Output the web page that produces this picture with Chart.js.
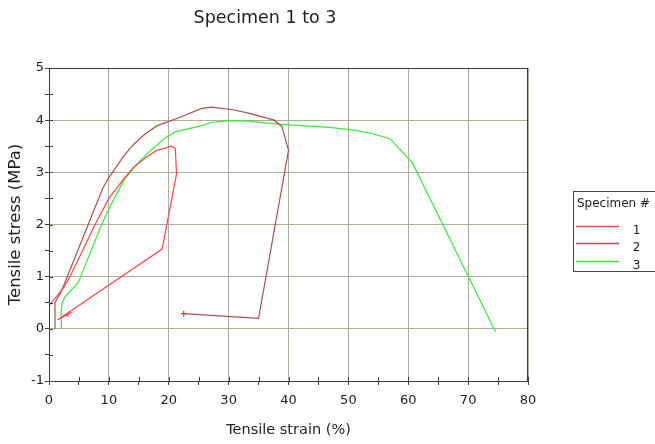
<!DOCTYPE html>
<html>
<head>
<meta charset="utf-8">
<script src="https://cdn.jsdelivr.net/npm/chart.js@4.4.1/dist/chart.umd.min.js"></script>
<style>
  html, body { margin: 0; padding: 0; background: #fff; }
</style>
</head>
<body>
<canvas id="chart" width="655" height="444"></canvas>
<script>
const chartTitle = 'Specimen 1 to 3'
const legendTitle = 'Specimen #'
const specimens = ['1', '2', '3']

// specimen 1
const strain1 = [0, 0, 1.0, 2.5, 3.5, 7.7, 10, 12.4, 14, 16, 18, 20.5, 21.1, 21.3, 18.9, 1.4, 3.5, 2.6, 3.3]
const stress1 = [0, 0.45, 0.58, 0.8, 1.0, 2.0, 2.5, 2.86, 3.08, 3.27, 3.42, 3.5, 3.46, 2.97, 1.53, 0.17, 0.3, 0.27, 0.24]

// specimen 2
const strain2 = [1.0, 1.0, 2.0, 3.05, 6.55, 9.0, 9.9, 12.4, 14, 16, 18, 22, 25.4, 27.1, 30.7, 33.5, 37.6, 38.9, 40.0, 35.0, 22.5]
const stress2 = [0, 0.5, 0.7, 1.0, 2.0, 2.7, 2.88, 3.3, 3.52, 3.73, 3.89, 4.06, 4.22, 4.25, 4.2, 4.13, 4.0, 3.88, 3.42, 0.2, 0.29]

// specimen 3
const strain3 = [2.05, 2.05, 2.2, 2.6, 4.9, 8.8, 10, 12.5, 15, 17, 19.4, 21.2, 25, 27.2, 30.7, 33, 38.8, 46.8, 51, 54.1, 57, 60.7, 74.6]
const stress3 = [0, 0.36, 0.49, 0.6, 0.89, 2.0, 2.3, 2.85, 3.2, 3.42, 3.66, 3.78, 3.88, 3.96, 3.99, 3.98, 3.92, 3.86, 3.81, 3.74, 3.64, 3.18, -0.06]

const colors = ['rgb(255,70,70)', 'rgb(175,80,80)', 'rgb(55,235,55)']
const FONT = '"DejaVu Sans", sans-serif'
const gridColor = '#b0ad9c'
const axisColor = '#3c3c3c'
const textColor = '#1c1c24'

function pts(xs, ys) {
    return xs.map((x, i) => ({x: x, y: ys[i]}))
}

// frame, inner tick marks, title and boxed legend
const decor = {
    id: 'decor',
    afterDraw(chart) {
        const ctx = chart.ctx
        const a = chart.chartArea
        ctx.save()
        ctx.strokeStyle = axisColor
        ctx.lineWidth = 1
        ctx.strokeRect(Math.round(a.left) + 0.5, Math.round(a.top) + 0.5,
            Math.round(a.right - a.left) - 1, Math.round(a.bottom - a.top))

        // ticks cross the axis lines, so draw the inner half too
        ctx.beginPath()
        chart.scales.x.ticks.forEach(t => {
            const px = Math.round(chart.scales.x.getPixelForValue(t.value)) + 0.5
            ctx.moveTo(px, a.bottom)
            ctx.lineTo(px, a.bottom - 4)
        })
        chart.scales.y.ticks.forEach(t => {
            const py = Math.round(chart.scales.y.getPixelForValue(t.value)) + 0.5
            ctx.moveTo(a.left, py)
            ctx.lineTo(a.left + 4, py)
        })
        ctx.stroke()

        ctx.fillStyle = textColor
        ctx.font = '17.5px ' + FONT
        ctx.textAlign = 'center'
        ctx.textBaseline = 'alphabetic'
        ctx.fillText(chartTitle, 265, 23)

        // legend
        const lx = 573.5, ly = 191.5
        ctx.strokeStyle = '#444'
        ctx.strokeRect(lx, ly, 120, 80)
        ctx.font = '12px ' + FONT
        ctx.textAlign = 'left'
        ctx.textBaseline = 'middle'
        ctx.fillText(legendTitle, 577, 204)
        chart.data.datasets.forEach((ds, i) => {
            const y = 225.5 + i * 17.5
            ctx.strokeStyle = ds.borderColor
            ctx.lineWidth = 1.3
            ctx.beginPath()
            ctx.moveTo(576, Math.round(y) + 0.5)
            ctx.lineTo(619, Math.round(y) + 0.5)
            ctx.stroke()
            ctx.textAlign = 'center'
            ctx.fillText(ds.label, 636.5, y + 5)
        })
        ctx.restore()
    }
}

new Chart(document.getElementById('chart'), {
    type: 'scatter',
    data: {
        datasets: [
            {label: specimens[0], data: pts(strain1, stress1)},
            {label: specimens[1], data: pts(strain2, stress2),
                pointRadius: c => c.dataIndex === strain2.length - 1 ? 3 : 0},
            {label: specimens[2], data: pts(strain3, stress3)}
        ].map((d, i) => Object.assign({
            showLine: true,
            borderColor: colors[i],
            backgroundColor: colors[i],
            borderWidth: 1.2,
            pointRadius: 0,
            pointStyle: 'cross',
            tension: 0
        }, d))
    },
    options: {
        responsive: false,
        animation: false,
        layout: {padding: {top: 68, right: 127, left: 0, bottom: 0}},
        plugins: {
            legend: {display: false},
            title: {display: false},
            tooltip: {enabled: false}
        },
        scales: {
            x: {
                type: 'linear',
                min: 0,
                max: 80,
                afterFit: s => { s.height = 63 },
                border: {color: axisColor, width: 1},
                grid: {
                    color: c => c.tick && c.tick.value % 10 === 0 ? gridColor : 'rgba(0,0,0,0)',
                    tickColor: axisColor,
                    tickLength: 4
                },
                ticks: {
                    stepSize: 5,
                    autoSkip: false,
                    maxRotation: 0,
                    padding: 8,
                    color: textColor,
                    font: {family: FONT, size: 13},
                    callback: v => v % 10 === 0 ? v : ''
                },
                title: {
                    display: true,
                    text: 'Tensile strain (%)',
                    color: textColor,
                    font: {family: FONT, size: 14.5},
                    padding: {top: 0, bottom: 5}
                }
            },
            y: {
                min: -1,
                max: 5,
                afterFit: s => { s.width = 49 },
                border: {color: axisColor, width: 1},
                grid: {
                    color: c => c.tick && Number.isInteger(c.tick.value) ? gridColor : 'rgba(0,0,0,0)',
                    tickColor: axisColor,
                    tickLength: 4
                },
                ticks: {
                    stepSize: 0.5,
                    autoSkip: false,
                    padding: 1,
                    color: textColor,
                    font: {family: FONT, size: 13},
                    callback: v => Number.isInteger(v) ? v : ''
                },
                title: {
                    display: true,
                    text: 'Tensile stress (MPa)',
                    color: textColor,
                    font: {family: FONT, size: 16.5},
                    padding: {top: 6, bottom: 0}
                }
            }
        }
    },
    plugins: [decor]
})
</script>
</body>
</html>
